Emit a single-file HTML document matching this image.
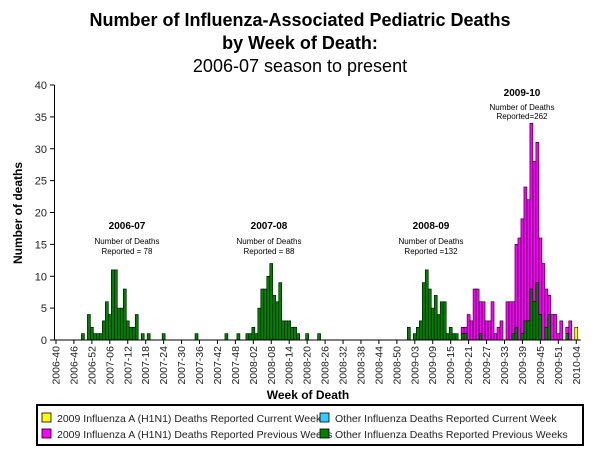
<!DOCTYPE html>
<html><head><meta charset="utf-8"><style>
body{margin:0;background:#fff;}
svg{display:block;font-family:"Liberation Sans",Arial,sans-serif;}
</style></head><body>
<svg id="chart" width="600" height="450" viewBox="0 0 600 450" xmlns="http://www.w3.org/2000/svg">
<rect width="600" height="450" fill="#fff"/>
<text x="300" y="26" text-anchor="middle" font-size="18" font-weight="bold">Number of Influenza-Associated Pediatric Deaths</text>
<text x="300" y="49" text-anchor="middle" font-size="18" font-weight="bold">by Week of Death:</text>
<text x="300" y="72" text-anchor="middle" font-size="18">2006-07 season to present</text>
<text transform="translate(22,213) rotate(-90)" text-anchor="middle" font-size="12" font-weight="bold">Number of deaths</text>
<text x="308" y="399" text-anchor="middle" font-size="12" font-weight="bold">Week of Death</text>
<g id="plot"></g>
<g text-anchor="middle">
<text x="127" y="229" font-size="10" font-weight="bold">2006-07</text>
<text x="127" y="244" font-size="8">Number of Deaths</text>
<text x="127" y="254" font-size="8">Reported = 78</text>
<text x="269" y="229" font-size="10" font-weight="bold">2007-08</text>
<text x="269" y="244" font-size="8">Number of Deaths</text>
<text x="269" y="254" font-size="8">Reported = 88</text>
<text x="431" y="229" font-size="10" font-weight="bold">2008-09</text>
<text x="431" y="244" font-size="8">Number of Deaths</text>
<text x="431" y="254" font-size="8">Reported =132</text>
<text x="522" y="96" font-size="10" font-weight="bold">2009-10</text>
<text x="522" y="110" font-size="8">Number of Deaths</text>
<text x="522" y="119" font-size="8">Reported=262</text>
</g>
<g font-size="10.5" fill="#222">
<rect x="37" y="405" width="546" height="40" fill="#fff" stroke="#000" stroke-width="2"/>
<rect x="42" y="413" width="9" height="9" fill="#ffff00" stroke="#000" stroke-width="0.8"/>
<text x="57" y="422">2009 Influenza  A (H1N1) Deaths Reported Current Week</text>
<rect x="42" y="429" width="9" height="9" fill="#ff00ff" stroke="#000" stroke-width="0.8"/>
<text x="57" y="438">2009 Influenza  A (H1N1) Deaths Reported Previous Weeks</text>
<rect x="320" y="413" width="9" height="9" fill="#33ccff" stroke="#000" stroke-width="0.8"/>
<text x="335" y="422">Other Influenza  Deaths Reported Current Week</text>
<rect x="320" y="429" width="9" height="9" fill="#008000" stroke="#000" stroke-width="0.8"/>
<text x="335" y="438">Other Influenza  Deaths Reported Previous Weeks</text>
</g>
</svg>
<script>
const otherPrev = [0,0,0,0,0,0,0,0,0,1, 0,4,2,1,1,1,3,6,4,11, 11,5,5,8,3,
2,2,4,0,1, 0,1,0,0,0, 0,1,0,0,0, 0,0,0,0,0, 0,0,1,0,0,
0,0,0,0,0, 0,0,1,0,0, 0,1,0,0,1, 1,2,1,5,8, 8,10,12,7,6,
9,3,3,3,2, 2,1,0,0,1, 0,0,0,1,0, 0,0,0,0,0, 0,0,0,0,0,
0,0,0,0,0, 0,0,0,0,0, 0,0,0,0,0, 0,0,0,2,0, 1,2,3,9,11,
8,5,7,4,6, 6,1,2,1,1, 0,1,1,0,0, 0,0,1,0,0, 0,0,0,0,0,
0,0,0,1,2, 0,1,3,3,8, 6,9,4,0,2, 4,0,0,0,0, 0,1,0,0,0];
const h1n1Prev = new Array(125).fill(0).concat([0,0,0,0,0, 0,0,0,0,0, 0,1,1,4,3, 8,8,5,6,3, 3,6,1,2,3,
0,6,6,5,13, 16,18,21,19,26, 22,22,12,12,6, 3,4,4,1,3, 0,1,3,0,0]);
const h1n1Curr = new Array(174).fill(0).concat([2]);
const otherCurr = new Array(175).fill(0);
const yTicks = [0,5,10,15,20,25,30,35,40];
const seasons = [[2006,40,52],[2007,1,52],[2008,1,53],[2009,1,53],[2010,1,5]];

const categories = [];
seasons.forEach(s => { for (let w = s[1]; w <= s[2]; w++) categories.push(s[0] + '-' + String(w).padStart(2,'0')); });

const NS = 'http://www.w3.org/2000/svg';
const plot = document.getElementById('plot');
const X0 = 54.5, BW = 2.99, Y0 = 340, YS = 255 / 40;
const xPos = i => X0 + BW * i;
const yPos = v => Y0 - v * YS;
function mk(tag, attrs) { const e = document.createElementNS(NS, tag); for (const k in attrs) e.setAttribute(k, attrs[k]); plot.appendChild(e); return e; }

yTicks.forEach(t => {
  const tk = mk('line', {x1: 50, x2: 54.5, y1: yPos(t), y2: yPos(t), stroke: '#000', 'stroke-width': 1});
  
  
  const lb = mk('text', {x: 47, y: yPos(t) + 4, 'text-anchor': 'end', 'font-size': 11, fill: '#222'});
  lb.textContent = t;
  
  
});

const series = [
  {vals: otherPrev, color: '#008000', name: 'other-previous'},
  {vals: otherCurr, color: '#33ccff', name: 'other-current'},
  {vals: h1n1Prev, color: '#ff00ff', name: 'h1n1-previous'},
  {vals: h1n1Curr, color: '#ffff00', name: 'h1n1-current'}
];
categories.forEach((c, i) => {
  let base = 0;
  series.forEach(s => {
    const v = s.vals[i] || 0;
    if (v > 0) {
      const r = mk('rect', {x: xPos(i), y: yPos(base + v), width: BW, height: v * YS, fill: s.color, stroke: '#000', 'stroke-width': 0.6});
      
      
    }
    base += v;
  });
});

const ya = mk('line', {x1: 54.5, x2: 54.5, y1: 85, y2: 340, stroke: '#000', 'stroke-width': 1});


const xa = mk('line', {x1: 54.5, x2: xPos(categories.length), y1: 340, y2: 340, stroke: '#000', 'stroke-width': 1});



categories.forEach((c, i) => {
  if (i % 6 !== 0) return;
  const cx = xPos(i) + BW / 2;
  const tk = mk('line', {x1: cx, x2: cx, y1: 340, y2: 344, stroke: '#000', 'stroke-width': 1});
  
  
  const lb = mk('text', {transform: 'translate(' + (cx + 3.5) + ',346) rotate(-90)', 'text-anchor': 'end', 'font-size': 10.5, fill: '#222'});
  lb.textContent = c;
  
  
});
</script>
</body></html>
